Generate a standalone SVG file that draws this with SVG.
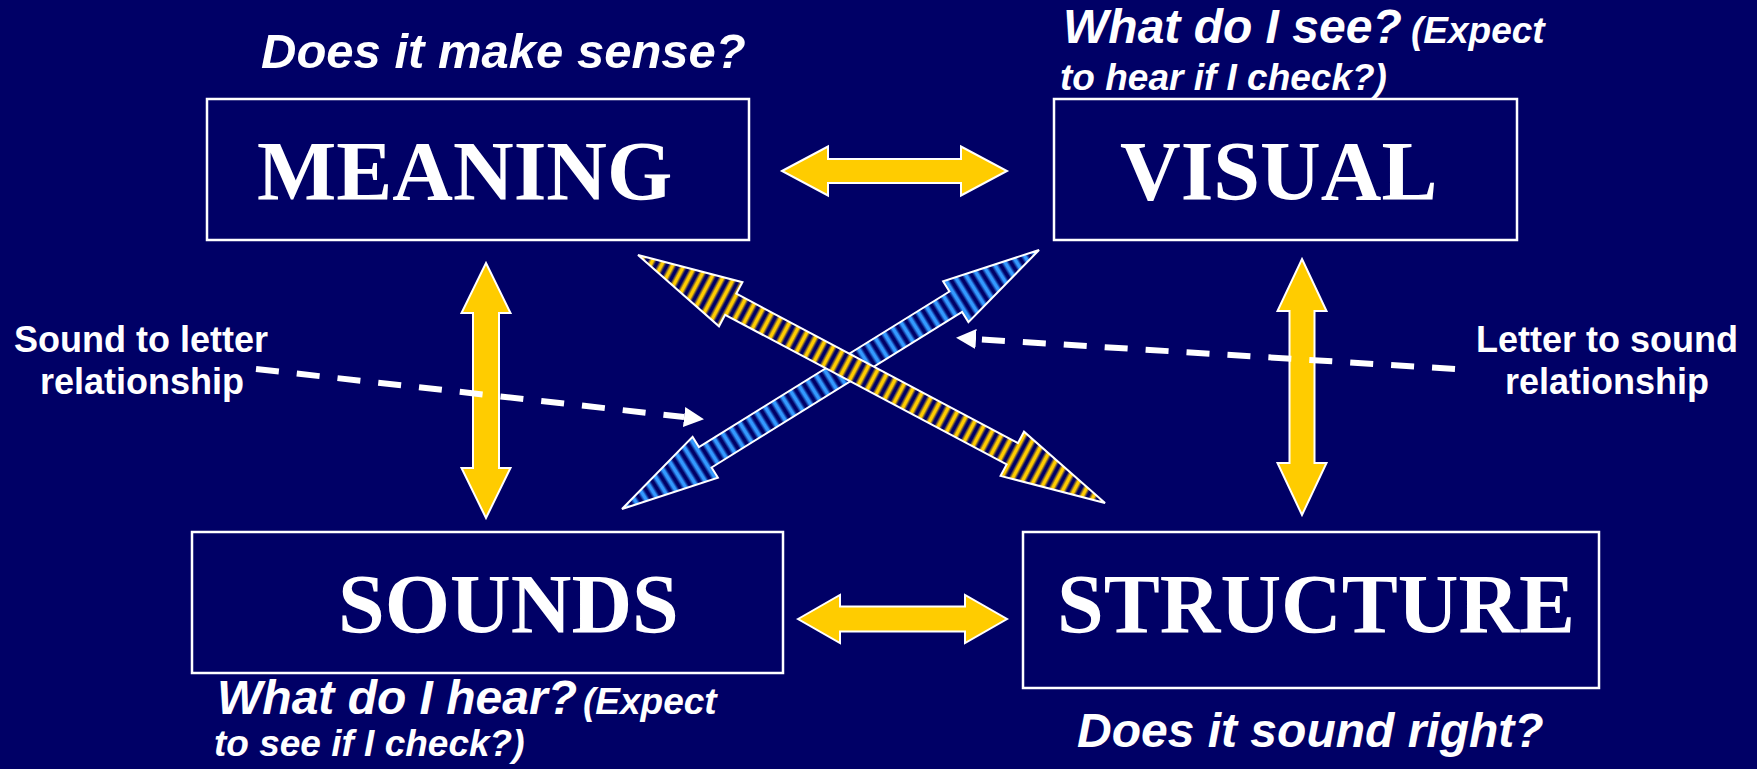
<svg xmlns="http://www.w3.org/2000/svg" width="1757" height="769" viewBox="0 0 1757 769">
<style>
.box{fill:none;stroke:#FFFFFF;stroke-width:2.5}
.big{font-family:"Liberation Serif","Times New Roman",serif;font-weight:bold;font-size:84px;fill:#FFFFFF}
.q{font-family:"Liberation Sans",Arial,sans-serif;font-weight:bold;font-style:italic;font-size:48px;fill:#FFFFFF}
.qs{font-size:37px}
.side{font-family:"Liberation Sans",Arial,sans-serif;font-weight:bold;font-size:36px;fill:#FFFFFF;text-anchor:middle}
.yarrow{fill:#FFCC00;stroke:#FFFFFF;stroke-width:2;stroke-linejoin:miter}
.dash{fill:none;stroke:#FFFFFF;stroke-width:6;stroke-dasharray:23 18}
</style>
<defs>
<linearGradient id="gGold" x1="0" y1="0" x2="1" y2="0">
<stop offset="0" stop-color="#000066"/>
<stop offset="0.15" stop-color="#000066"/>
<stop offset="0.45" stop-color="#FFCC00"/>
<stop offset="0.65" stop-color="#FFCC00"/>
<stop offset="0.92" stop-color="#000066"/>
<stop offset="1" stop-color="#000066"/>
</linearGradient>
<linearGradient id="gBlue" x1="0" y1="0" x2="1" y2="0">
<stop offset="0" stop-color="#000066"/>
<stop offset="0.15" stop-color="#000066"/>
<stop offset="0.45" stop-color="#3399FF"/>
<stop offset="0.65" stop-color="#3399FF"/>
<stop offset="0.92" stop-color="#000066"/>
<stop offset="1" stop-color="#000066"/>
</linearGradient>
<pattern id="pGold" patternUnits="userSpaceOnUse" width="10" height="100">
<rect width="10" height="100" fill="url(#gGold)"/>
</pattern>
<pattern id="pBlue" patternUnits="userSpaceOnUse" width="10" height="100">
<rect width="10" height="100" fill="url(#gBlue)"/>
</pattern>
<marker id="head" markerUnits="userSpaceOnUse" markerWidth="20" markerHeight="20" refX="0" refY="9" orient="auto" viewBox="0 0 18 18">
<path d="M0,0 L18,9 L0,18 Z" fill="#FFFFFF"/>
</marker>
</defs>
<rect x="0" y="0" width="1757" height="769" fill="#000066"/>

<g id="meaning">
<rect class="box" x="207" y="99" width="542" height="141"/>
<text class="big" x="257" y="200">MEANING</text>
<text class="q" x="261" y="68" style="font-size:49px">Does it make sense?</text>
</g>

<g id="visual">
<rect class="box" x="1054" y="99" width="463" height="141"/>
<text class="big" x="1120" y="200">VISUAL</text>
<text class="q" x="1063" y="43">What do I see?<tspan class="qs" x="1411">(Expect</tspan></text>
<text class="q qs" x="1060" y="90">to hear if I check?)</text>
</g>

<g id="sounds">
<rect class="box" x="192" y="532" width="591" height="141"/>
<text class="big" x="338" y="633">SOUNDS</text>
<text class="q" x="217" y="714">What do I hear?<tspan class="qs" x="583">(Expect</tspan></text>
<text class="q qs" x="214" y="756">to see if I check?)</text>
</g>

<g id="structure">
<rect class="box" x="1023" y="532" width="576" height="156"/>
<text class="big" x="1057" y="633">STRUCTURE</text>
<text class="q" x="1077" y="747">Does it sound right?</text>
</g>

<g id="label-sound-letter">
<text class="side" x="141" y="352">Sound to letter</text>
<text class="side" x="142" y="394">relationship</text>
</g>

<g id="label-letter-sound">
<text class="side" x="1607" y="352">Letter to sound</text>
<text class="side" x="1607" y="394">relationship</text>
</g>

<g id="connectors">
<polygon class="yarrow" points="782,171 828,146.5 828,159 961,159 961,146.5 1007,171 961,195.5 961,183 828,183 828,195.5"/>
<polygon class="yarrow" points="798,619 840,595 840,606.5 965,606.5 965,595 1007,619 965,643 965,631.5 840,631.5 840,643"/>
<polygon class="yarrow" points="486,263 510.5,313 499,313 499,468 510.5,468 486,518 461.5,468 473,468 473,313 461.5,313"/>
<polygon class="yarrow" points="1302,259 1326.5,311 1314.5,311 1314.5,463 1326.5,463 1302,515 1277.5,463 1289.5,463 1289.5,311 1277.5,311"/>
<g transform="translate(622,509) rotate(-31.84)">
<polygon points="0,0 98,-24 98,-12 392.9,-12 392.9,-24 490.9,0 392.9,24 392.9,12 98,12 98,24" fill="url(#pBlue)" stroke="#FFFFFF" stroke-width="2"/>
</g>
<g transform="translate(638,255) rotate(27.97)">
<polygon points="0,0 105,-25 105,-12 423.8,-12 423.8,-25 528.8,0 423.8,25 423.8,12 105,12 105,25" fill="url(#pGold)" stroke="#FFFFFF" stroke-width="2"/>
</g>
<line class="dash" x1="256" y1="369" x2="684.1" y2="417" marker-end="url(#head)"/>
<line class="dash" x1="1455" y1="369" x2="976" y2="339.1" marker-end="url(#head)"/>
</g>
</svg>
